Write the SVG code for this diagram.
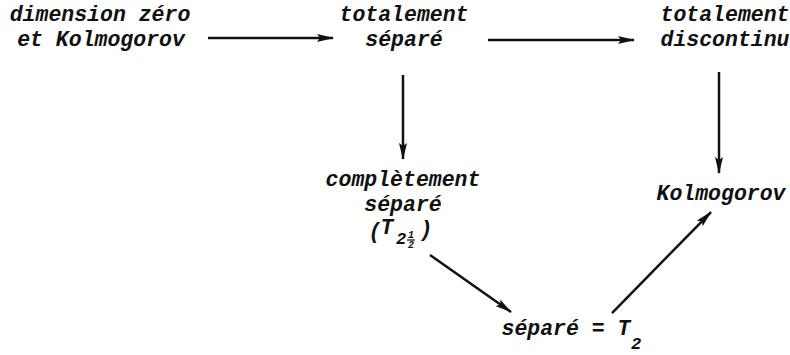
<svg xmlns="http://www.w3.org/2000/svg" width="790" height="355" viewBox="0 0 790 355">
<style>
text{font-family:"Liberation Mono","Courier New",monospace;font-style:italic;font-weight:bold;font-size:21.5px;fill:#111;text-anchor:middle}
.sub{font-size:17px}
.frac{font-size:10px}
.c line{stroke:#111;stroke-width:2.5;marker-end:url(#ah)}
</style>
<defs>
<marker id="ah" viewBox="0 0 17 8" refX="16" refY="4" markerWidth="17" markerHeight="8" markerUnits="userSpaceOnUse" orient="auto">
<path d="M0,0 L17,4 L0,8 L3,4 Z" fill="#111"/>
</marker>
</defs>
<rect width="790" height="355" fill="#fff"/>
<g id="n1"><text x="100" y="21">dimension zéro</text><text x="101" y="46">et Kolmogorov</text></g>
<g id="n2"><text x="404" y="21">totalement</text><text x="404" y="46">séparé</text></g>
<g id="n3"><text x="725" y="21">totalement</text><text x="725" y="46">discontinu</text></g>
<g id="n4"><text x="403" y="186">complètement</text><text x="403" y="211">séparé</text>
<text x="375" y="238">(</text><text x="387" y="234">T</text><text class="sub" x="401" y="244">2</text><text class="frac" x="411" y="238">1</text><line x1="407" y1="240" x2="415" y2="240" stroke="#111" stroke-width="1.2"/><text class="frac" x="411" y="248">2</text><text x="426" y="236">)</text></g>
<g id="n5"><text x="721" y="200">Kolmogorov</text></g>
<g id="n6"><text x="566" y="335">séparé = T</text><text class="sub" x="636" y="349">2</text></g>
<g class="c" id="connectors">
<line x1="208" y1="38" x2="333" y2="38"/>
<line x1="488" y1="40" x2="634" y2="40"/>
<line x1="403" y1="75" x2="403" y2="159"/>
<line x1="719" y1="72" x2="719" y2="173"/>
<line x1="430" y1="255" x2="511" y2="312"/>
<line x1="612" y1="313" x2="711" y2="212"/>
</g>
</svg>
